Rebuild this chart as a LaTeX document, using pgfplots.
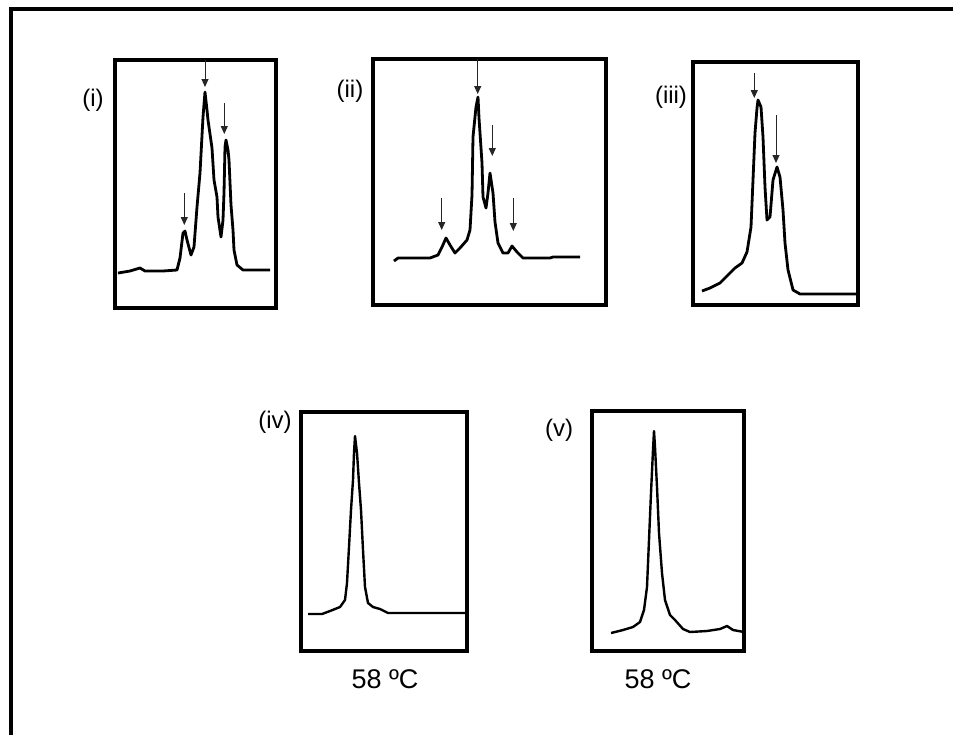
\documentclass[border=0pt]{standalone}
\usepackage{pgfplots}
\pgfplotsset{compat=1.18}
\usepackage{fontspec}
\setmainfont{Liberation Sans}
\usetikzlibrary{arrows.meta}
\pgfplotsset{
  panel/.style={scale only axis, axis line style={line width=3.5pt}, xtick=\empty, ytick=\empty,
    y dir=reverse, clip=false, anchor=north west},
  curve/.style={black, line width=2.8pt, line join=round, mark=none},
  curvethin/.style={black, line width=2.4pt, line join=round, mark=none},
}
\tikzset{pk/.style={-{Triangle[length=8pt,width=7pt]}, line width=1pt, black!85}}
\begin{document}
\begin{tikzpicture}
\useasboundingbox (0pt,0pt) rectangle (953pt,-734pt);
\fill[white] (0pt,0pt) rectangle (953pt,-734pt);
\draw[line width=4pt, line join=miter] (11pt,-740pt) -- (11pt,-9pt) -- (960pt,-9pt);

% (i)
\begin{axis}[panel, at={(115pt,-60pt)}, width=161pt, height=248pt, xmin=115, xmax=276, ymin=60, ymax=308]
\addplot[curve] coordinates {
(118,273) (130,271) (140,268) (145,271) (163,271) (177,270) (180,258) (183,233) (185,231)
(187,240) (191,255) (194,247) (197,207) (200,173) (203,117) (205,92) (207,110) (208,120)
(212,148) (214,180) (217,197) (218,217) (221,237) (223,220) (224,193) (225,147) (226,140)
(228,150) (229,160) (231,205) (233,230) (234,250) (237,265) (243,270) (270,270)};
\draw[pk] (axis cs:205,60) -- (axis cs:205,87);
\draw[pk] (axis cs:224.3,103) -- (axis cs:224.3,134);
\draw[pk] (axis cs:184.3,193) -- (axis cs:184.3,225);
\end{axis}

% (ii)
\begin{axis}[panel, at={(373pt,-59pt)}, width=233pt, height=246pt, xmin=373, xmax=606, ymin=59, ymax=305]
\addplot[curve] coordinates {
(394,261) (398,258) (430,258) (438,255) (442,247) (446,238) (450,245) (455,253) (460,248)
(467,240) (470,230) (472,195) (473,137) (476,107) (478,97) (479,118) (482,163) (483,197)
(486,208) (488,193) (490,173) (493,193) (495,222) (498,243) (503,253) (508,253) (512,246)
(517,252) (523,258) (550,258) (553,257) (580,257)};
\draw[pk] (axis cs:477.7,59) -- (axis cs:477.7,94);
\draw[pk] (axis cs:492.3,125) -- (axis cs:492.3,156);
\draw[pk] (axis cs:441.7,198) -- (axis cs:441.7,230);
\draw[pk] (axis cs:513.3,198) -- (axis cs:513.3,231);
\end{axis}

% (iii)
\begin{axis}[panel, at={(693pt,-62pt)}, width=165pt, height=243pt, xmin=693, xmax=858, ymin=62, ymax=305]
\addplot[curve] coordinates {
(702,291) (710,288) (720,283) (730,273) (735,268) (742,263) (747,252) (751,227) (753,180)
(755,133) (757,108) (758,100) (761,107) (763,137) (765,187) (767,220) (770,217) (773,180)
(777,167) (780,177) (783,210) (785,243) (788,270) (793,290) (800,294) (857,294)};
\draw[pk] (axis cs:754.3,73) -- (axis cs:754.3,98);
\draw[pk] (axis cs:776,115) -- (axis cs:776,163);
\end{axis}

% (iv)
\begin{axis}[panel, at={(301pt,-412pt)}, width=166pt, height=239pt, xmin=301, xmax=467, ymin=412, ymax=651]
\addplot[curvethin] coordinates {
(308,614) (322,614) (330,611) (340,607) (345,600) (347,583) (349,547) (351,510) (353,480)
(354,453) (355,436) (357,453) (359,483) (361,510) (363,550) (365,587) (368,603) (373,607)
(380,609) (388,613) (467,613)};
\end{axis}

% (v)
\begin{axis}[panel, at={(592pt,-411pt)}, width=152pt, height=240pt, xmin=592, xmax=744, ymin=411, ymax=651]
\addplot[curvethin] coordinates {
(611,633) (623,630) (633,627) (640,622) (644,610) (647,587) (649,540) (651,493) (653,450)
(654,431) (655,447) (657,487) (659,533) (662,573) (665,600) (670,615) (675,620) (683,629)
(690,632) (707,631) (720,629) (727,626) (733,630) (744,632)};
\end{axis}

\node[font=\fontsize{24}{28}\selectfont] at (93pt,-100pt) {(i)};
\node[font=\fontsize{24}{28}\selectfont] at (350pt,-91pt) {(ii)};
\node[font=\fontsize{24}{28}\selectfont] at (671pt,-97pt) {(iii)};
\node[font=\fontsize{24}{28}\selectfont] at (275pt,-422pt) {(iv)};
\node[font=\fontsize{24}{28}\selectfont] at (559pt,-430pt) {(v)};
\node[font=\fontsize{27}{32}\selectfont] at (385pt,-679pt) {58 ºC};
\node[font=\fontsize{27}{32}\selectfont] at (658pt,-679pt) {58 ºC};
\end{tikzpicture}
\end{document}
